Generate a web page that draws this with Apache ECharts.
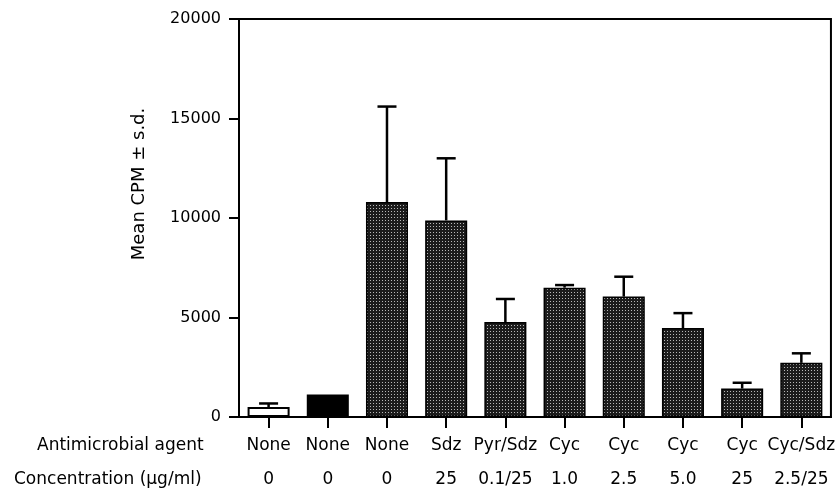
<!DOCTYPE html>
<html>
<head>
<meta charset="utf-8">
<script src="https://cdn.jsdelivr.net/npm/echarts@6/dist/echarts.min.js"></script>
<style>
html,body{margin:0;padding:0;background:#fff;}
#c{width:838px;height:490px;}
</style>
</head>
<body>
<div id="c"></div>
<script>
var agents = ['None','None','None','Sdz','Pyr/Sdz','Cyc','Cyc','Cyc','Cyc','Cyc/Sdz'];
var concentrations = ['0','0','0','25','0.1/25','1.0','2.5','5.0','25','2.5/25'];
var meanCPM = [500, 1130, 10800, 9880, 4770, 6500, 6050, 4470, 1430, 2720];
var sdCPM = [180, 0, 4800, 3120, 1160, 130, 1000, 750, 290, 480];
var yTicks = [0, 5000, 10000, 15000, 20000];
var yTitle = 'Mean CPM \u00b1 s.d.';
var rowTitles = ['Antimicrobial agent', 'Concentration (\u03bcg/ml)'];

var FONT = '"DejaVu Sans", Verdana, sans-serif';

// stipple pattern
var tile = document.createElement('canvas');
tile.width = 3; tile.height = 3;
var tctx = tile.getContext('2d');
tctx.fillStyle = '#1c1c1c';
tctx.fillRect(0,0,3,3);
tctx.fillStyle = '#b8b8b8';
tctx.fillRect(1,1,1,1);
var stipple = {image: tile, repeat: 'repeat'};

var barData = meanCPM.map(function(v, i){
  var style;
  if (i === 0) style = {color:'#ffffff', borderColor:'#000', borderWidth:2};
  else if (i === 1) style = {color:'#000000', borderColor:'#000', borderWidth:1.5};
  else style = {color: stipple, borderColor:'#000', borderWidth:1.5};
  return {value: v, itemStyle: style};
});

var errData = meanCPM.map(function(v, i){ return [i, v, v + sdCPM[i]]; });

var chart = echarts.init(document.getElementById('c'), null, {renderer:'canvas'});
chart.setOption({
  animation: false,
  backgroundColor: '#fff',
  grid: {left: 239, right: 5, top: 19, bottom: 73, show: true, borderColor: '#000', borderWidth: 2, backgroundColor: 'transparent'},
  xAxis: {
    type: 'category',
    data: agents,
    axisLine: {lineStyle: {color:'#000', width:2}},
    axisTick: {show: true, alignWithLabel: true, length: 11, lineStyle: {color:'#000', width:2}},
    axisLabel: {
      margin: 12,
      interval: 0,
      formatter: function(val, idx){ return '{a|' + val + '}\n{b|' + concentrations[idx] + '}'; },
      rich: {
        a: {fontFamily: FONT, fontSize: 17, color:'#000', lineHeight: 34},
        b: {fontFamily: FONT, fontSize: 17, color:'#000', lineHeight: 34}
      }
    }
  },
  yAxis: {
    type: 'value',
    min: yTicks[0],
    max: yTicks[yTicks.length-1],
    interval: yTicks[1] - yTicks[0],
    axisLine: {show: true, lineStyle: {color:'#000', width:2}},
    axisTick: {show: true, inside: false, length: 10, lineStyle: {color:'#000', width:2}},
    axisLabel: {fontFamily: FONT, fontSize: 16, color:'#000', margin: 18, formatter: function(v){ return String(v); }},
    splitLine: {show: false}
  },
  graphic: [
    {type:'text', x: 37, y: 446, style:{text: rowTitles[0], font:'17px ' + FONT, fill:'#000', textVerticalAlign:'middle'}},
    {type:'text', x: 14, y: 480, style:{text: rowTitles[1], font:'17px ' + FONT, fill:'#000', textVerticalAlign:'middle'}},
    {type:'text', x: 139, y: 184, rotation: Math.PI/2, style:{text: yTitle, font:'18px ' + FONT, fill:'#000', textAlign:'center', textVerticalAlign:'middle'}}
  ],
  series: [
    {
      type: 'bar',
      data: barData,
      barWidth: '71%',
      z: 2
    },
    {
      type: 'custom',
      data: errData,
      z: 3,
      renderItem: function(params, api){
        var i = api.value(0);
        if (api.value(2) <= api.value(1)) return null;
        var lo = api.coord([i, api.value(1)]);
        var hi = api.coord([i, api.value(2)]);
        var half = 9.5;
        return {
          type: 'group',
          children: [
            {type:'line', shape:{x1: lo[0], y1: lo[1], x2: hi[0], y2: hi[1]}, style:{stroke:'#000', lineWidth:2.5}},
            {type:'line', shape:{x1: hi[0]-half, y1: hi[1], x2: hi[0]+half, y2: hi[1]}, style:{stroke:'#000', lineWidth:2.5}}
          ]
        };
      }
    }
  ]
});
</script>
</body>
</html>
